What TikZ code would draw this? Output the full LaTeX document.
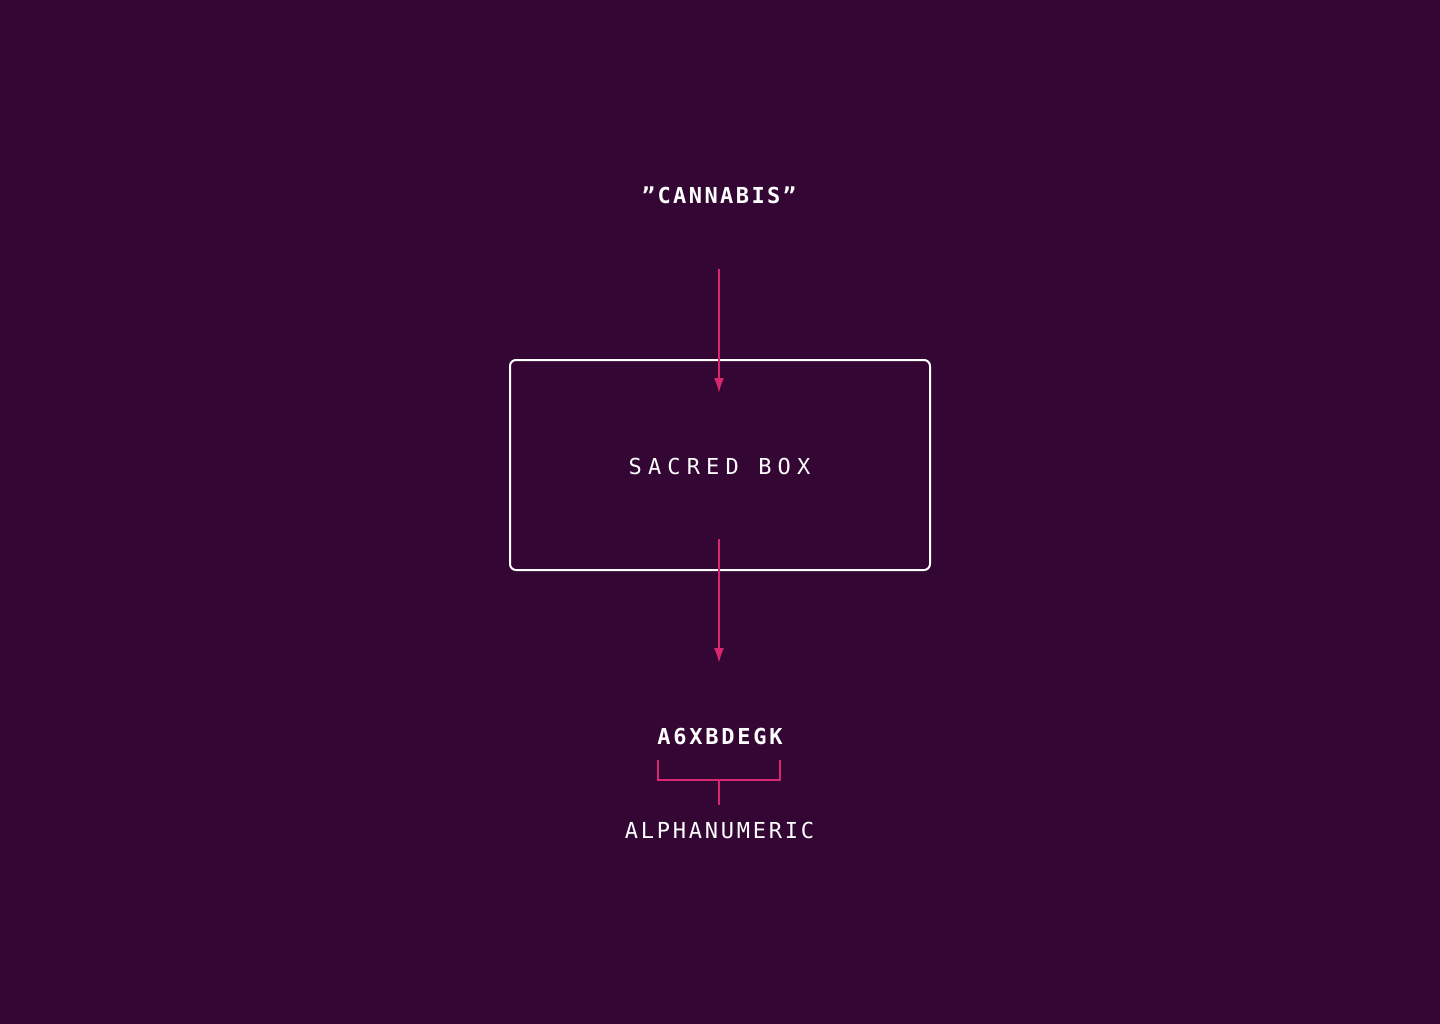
\documentclass[tikz,border=0pt]{standalone}
\usepackage{fontspec}
\usetikzlibrary{arrows.meta}
\newfontfamily\monoA[LetterSpace=11]{DejaVu Sans Mono}
\newfontfamily\monoB[LetterSpace=28]{DejaVu Sans Mono}
\newfontfamily\monoC[LetterSpace=12.5]{DejaVu Sans Mono}
\definecolor{bgpurple}{RGB}{51,6,52}
\definecolor{pinkline}{RGB}{216,38,112}
\tikzset{
  lbl/.style={text=white, inner sep=0pt, anchor=base},
  flow/.style={draw=pinkline, line width=2pt, -{Latex[length=15pt,width=10pt]}},
  brk/.style={draw=pinkline, line width=2pt},
}
\begin{document}
\begin{tikzpicture}[x=1pt,y=-1pt]
\fill[bgpurple] (0,0) rectangle (1440,1024);
\useasboundingbox (0,0) rectangle (1440,1024);
\node[lbl] (src) at (719,204) {\fontsize{22}{26}\selectfont\monoA\bfseries ”CANNABIS”};
\node[draw=white, line width=2pt, rounded corners=6pt, minimum width=420pt, minimum height=210pt, inner sep=0pt] (box) at (720,465) {};
\node[lbl] (boxlbl) at (719.5,474) {\fontsize{22}{26}\selectfont\monoB SACRED BOX};
\node[lbl] (code) at (720,744) {\fontsize{22}{26}\selectfont\monoC\bfseries A6XBDEGK};
\node[lbl] (kind) at (719.5,838) {\fontsize{22}{26}\selectfont\monoC ALPHANUMERIC};
\coordinate (a1s) at (719,269);
\coordinate (a1e) at (719,393);
\coordinate (a2s) at (719,539);
\coordinate (a2e) at (719,663);
\draw[flow] (a1s) -- (a1e);
\draw[flow] (a2s) -- (a2e);
\coordinate (bl) at (658,760);
\coordinate (br) at (780,760);
\coordinate (bm) at (719,780);
\coordinate (bs) at (719,805);
\draw[brk] (bl) |- (bm) -| (br);
\draw[brk] (bm) -- (bs);
\end{tikzpicture}
\end{document}
